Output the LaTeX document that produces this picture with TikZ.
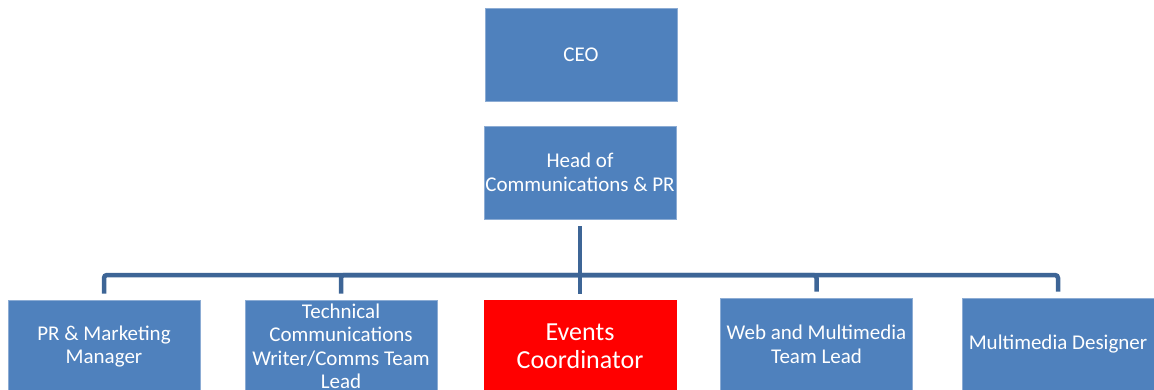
\documentclass[tikz,border=0pt]{standalone}
\usepackage{fontspec}
\setmainfont{Carlito}

\definecolor{boxblue}{RGB}{79,129,189}
\definecolor{boxedge}{RGB}{140,172,212}
\definecolor{linkblue}{RGB}{61,101,150}

\begin{document}
\begin{tikzpicture}[x=1pt,y=-1pt,
  role/.style={draw=boxedge,line width=0.8pt,fill=boxblue,text=white,minimum width=192pt,minimum height=93pt,align=center,inner sep=1pt,font=\fontsize{21}{23.5}\selectfont},
  lead/.style={role,draw=red,fill=red,font=\fontsize{26}{28.5}\selectfont},
  link/.style={draw=linkblue,line width=4.5pt,rounded corners=3pt}]
\useasboundingbox (0,0) rectangle (1154,390);
\node[role] (ceo) at (581,54.5) {CEO};
\node[role] (head) at (580,172.5) {Head of\\Communications \& PR};
\node[role] (prm) at (104,346.5) {PR \& Marketing\\Manager};
\node[role] (tcw) at (341,346.5) {Technical\\Communications\\Writer/Comms Team\\Lead};
\node[lead] (evc) at (580,346.5) {Events\\Coordinator};
\node[role] (wml) at (816.5,344.5) {Web and Multimedia\\Team Lead};
\node[role] (mmd) at (1058,344.5) {Multimedia Designer};
\coordinate (bar) at (580,275);
\draw[link,shorten >=6pt] ([yshift=-7pt]head.south) -- (evc.north);
\foreach \n in {prm,tcw,wml,mmd}
  \draw[link,shorten >=6pt] (bar) -| (\n.north);
\end{tikzpicture}
\end{document}
